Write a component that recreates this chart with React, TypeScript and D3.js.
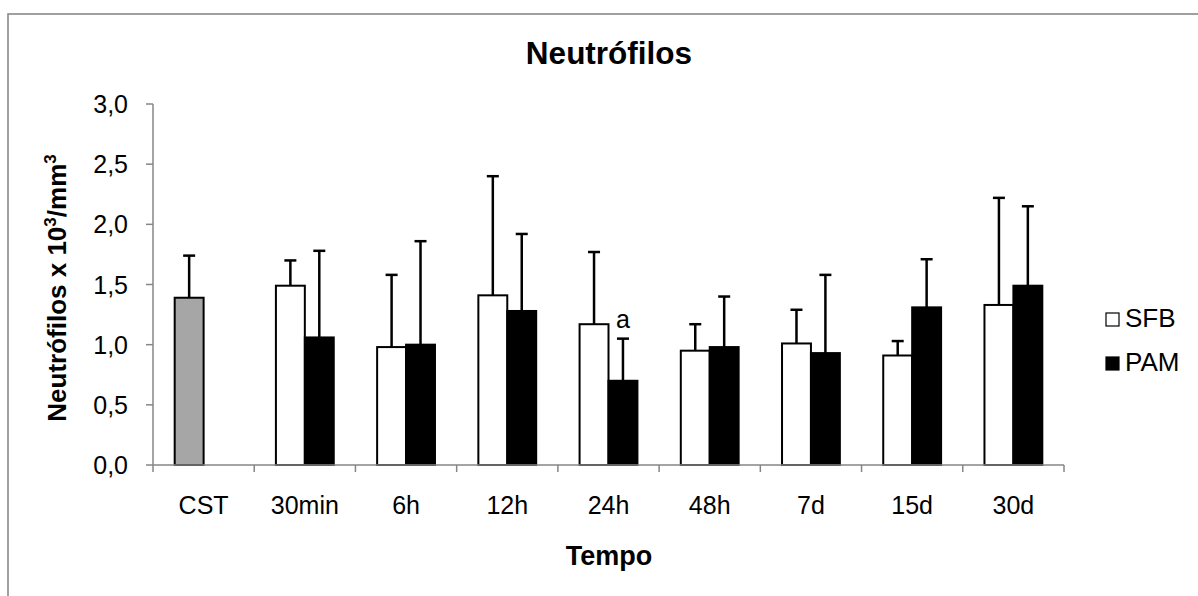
import React from "react";
import * as d3 from "d3";

const categories = ["CST", "30min", "6h", "12h", "24h", "48h", "7d", "15d", "30d"];
const cstValues = [1.39, null, null, null, null, null, null, null, null];
const cstErrors = [0.35, null, null, null, null, null, null, null, null];
const sfbValues = [null, 1.49, 0.98, 1.41, 1.17, 0.95, 1.01, 0.91, 1.33];
const sfbErrors = [null, 0.21, 0.6, 0.99, 0.6, 0.22, 0.28, 0.12, 0.89];
const pamValues = [null, 1.06, 1.0, 1.28, 0.7, 0.98, 0.93, 1.31, 1.49];
const pamErrors = [null, 0.72, 0.86, 0.64, 0.35, 0.42, 0.65, 0.4, 0.66];
const yTicks = [0, 0.5, 1.0, 1.5, 2.0, 2.5, 3.0];
const annotations = [{ category: "24h", series: 1, text: "a" }];

const W = 1198;
const H = 596;
const axisColor = "#868686";
const font = "'Liberation Sans', Arial, sans-serif";

export default function App() {
  const left = 153, right = 1064, top = 104, bottom = 465;
  const x = d3.scaleBand<string>().domain(categories).range([left, right]).padding(0);
  const y = d3.scaleLinear().domain([0, 3]).range([bottom, top]);
  const band = x.bandwidth();
  const barW = band / 3.5;
  const fmt = (v: number) => d3.format(".1f")(v).replace(".", ",");

  const series = [
    { name: "CST", values: cstValues, errors: cstErrors, fill: "#a6a6a6", slot: 0 },
    { name: "SFB", values: sfbValues, errors: sfbErrors, fill: "#ffffff", slot: 0 },
    { name: "PAM", values: pamValues, errors: pamErrors, fill: "#000000", slot: 1 },
  ];

  const barX = (c: string, slot: number) => (x(c) as number) + band / 2 - barW + slot * barW;

  return (
    <svg width={W} height={H} style={{ position: "absolute", left: 0, top: 0 }} fontFamily={font}>
      <rect x={0} y={0} width={W} height={H} fill="#fff" />
      <rect x={8} y={14} width={1300} height={700} fill="none" stroke="#898989" strokeWidth={1.6} />
      <text x={609} y={64} textAnchor="middle" fontSize={31.5} fontWeight="bold">Neutrófilos</text>

      {/* y axis */}
      <line x1={left} x2={left} y1={top} y2={bottom} stroke={axisColor} strokeWidth={1.5} />
      {yTicks.map((t) => (
        <g key={t}>
          <line x1={left - 7} x2={left} y1={y(t)} y2={y(t)} stroke={axisColor} strokeWidth={1.5} />
          <text x={128} y={y(t) + 9} textAnchor="end" fontSize={25}>{fmt(t)}</text>
        </g>
      ))}

      {/* bars */}
      {series.map((s) =>
        categories.map((c, i) => {
          const v = s.values[i];
          if (v == null) return null;
          const bx = barX(c, s.slot);
          return (
            <rect key={s.name + c} x={bx} y={y(v)} width={barW} height={y(0) - y(v)}
              fill={s.fill} stroke="#000" strokeWidth={2} />
          );
        })
      )}
      {/* error bars */}
      {series.map((s) =>
        categories.map((c, i) => {
          const v = s.values[i];
          const e = s.errors[i];
          if (v == null || e == null) return null;
          const cx = barX(c, s.slot) + barW / 2;
          return (
            <g key={"e" + s.name + c} stroke="#000" strokeWidth={2.5}>
              <line x1={cx} x2={cx} y1={y(v)} y2={y(v + e)} />
              <line x1={cx - 6} x2={cx + 6} y1={y(v + e)} y2={y(v + e)} />
            </g>
          );
        })
      )}

      {/* x axis */}
      <line x1={left} x2={right} y1={bottom} y2={bottom} stroke={axisColor} strokeWidth={1.5} />
      {[...categories.map((c) => x(c) as number), right].map((t, i) => (
        <line key={i} x1={t} x2={t} y1={bottom} y2={bottom + 7} stroke={axisColor} strokeWidth={1.5} />
      ))}
      {categories.map((c) => (
        <text key={c} x={(x(c) as number) + band / 2} y={514} textAnchor="middle" fontSize={25}>{c}</text>
      ))}

      {annotations.map((a) => {
        const s = series.find((_, k) => k === a.series + 1)!;
        const i = categories.indexOf(a.category);
        const v = s.values[i] as number;
        const e = s.errors[i] as number;
        return (
          <text key={a.text} x={barX(a.category, s.slot) + barW / 2} y={y(v + e) - 11}
            textAnchor="middle" fontSize={25}>{a.text}</text>
        );
      })}

      <text x={609} y={565} textAnchor="middle" fontSize={27} fontWeight="bold">Tempo</text>
      <text transform="translate(66,288) rotate(-90)" textAnchor="middle" fontSize={26} fontWeight="bold">
        Neutrófilos x 10<tspan fontSize={17} dy={-10}>3</tspan><tspan dy={10}>/mm</tspan><tspan fontSize={17} dy={-10}>3</tspan>
      </text>

      {/* legend */}
      <rect x={1106} y={313} width={13} height={13} fill="#fff" stroke="#000" strokeWidth={1.2} />
      <text x={1125} y={327} fontSize={26}>SFB</text>
      <rect x={1106} y={357} width={13} height={13} fill="#000" stroke="#000" strokeWidth={1.2} />
      <text x={1125} y={371} fontSize={26}>PAM</text>
    </svg>
  );
}
